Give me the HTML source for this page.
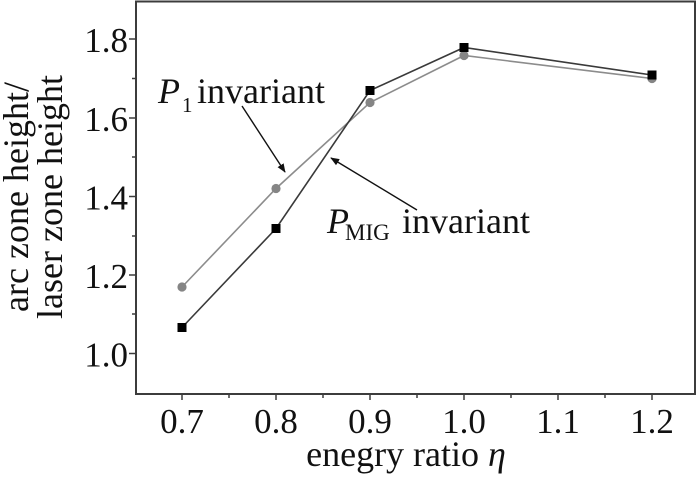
<!DOCTYPE html>
<html>
<head>
<meta charset="utf-8">
<style>
html,body{margin:0;padding:0;background:#fff;}
svg{display:block;}
text{font-family:"Liberation Serif","DejaVu Serif",serif;fill:#111;}
</style>
</head>
<body>
<svg width="700" height="477" viewBox="0 0 700 477" xmlns="http://www.w3.org/2000/svg">
<defs>
<marker id="ah" viewBox="0 0 10 10" refX="9" refY="5" markerWidth="9" markerHeight="9" orient="auto" markerUnits="userSpaceOnUse">
<path d="M0,1 L10,5 L0,9 Z" fill="#111"/>
</marker>
</defs>
<!-- frame -->
<rect x="136" y="1.5" width="559" height="392.5" fill="none" stroke="#3c3c3c" stroke-width="2"/>
<!-- y ticks -->
<g stroke="#3c3c3c" stroke-width="1.5">
<line x1="129" y1="39" x2="136" y2="39"/>
<line x1="129" y1="118" x2="136" y2="118"/>
<line x1="129" y1="196.5" x2="136" y2="196.5"/>
<line x1="129" y1="275" x2="136" y2="275"/>
<line x1="129" y1="353.5" x2="136" y2="353.5"/>
<line x1="132" y1="78.5" x2="136" y2="78.5"/>
<line x1="132" y1="157" x2="136" y2="157"/>
<line x1="132" y1="236" x2="136" y2="236"/>
<line x1="132" y1="314" x2="136" y2="314"/>
<!-- x ticks -->
<line x1="182" y1="394" x2="182" y2="400"/>
<line x1="276" y1="394" x2="276" y2="400"/>
<line x1="370" y1="394" x2="370" y2="400"/>
<line x1="464" y1="394" x2="464" y2="400"/>
<line x1="558" y1="394" x2="558" y2="400"/>
<line x1="652" y1="394" x2="652" y2="400"/>
<line x1="229" y1="394" x2="229" y2="398"/>
<line x1="323" y1="394" x2="323" y2="398"/>
<line x1="417" y1="394" x2="417" y2="398"/>
<line x1="511" y1="394" x2="511" y2="398"/>
<line x1="605" y1="394" x2="605" y2="398"/>
</g>
<!-- y tick labels -->
<g font-size="35" text-anchor="end">
<text x="128" y="52">1.8</text>
<text x="128" y="131">1.6</text>
<text x="128" y="209.5">1.4</text>
<text x="128" y="288">1.2</text>
<text x="128" y="366.5">1.0</text>
</g>
<!-- x tick labels -->
<g font-size="35" text-anchor="middle">
<text x="182" y="433">0.7</text>
<text x="276" y="433">0.8</text>
<text x="370" y="433">0.9</text>
<text x="464" y="433">1.0</text>
<text x="558" y="433">1.1</text>
<text x="652" y="433">1.2</text>
</g>
<!-- x label -->
<text x="406" y="466" font-size="36" text-anchor="middle">enegry ratio <tspan font-style="italic">η</tspan></text>
<!-- y label -->
<g transform="translate(28,197) rotate(-90)">
<text x="0" y="0" font-size="36" text-anchor="middle">arc zone height/</text>
</g>
<g transform="translate(62,197) rotate(-90)">
<text x="0" y="0" font-size="36" text-anchor="middle">laser zone height</text>
</g>
<!-- gray series (P1 invariant) -->
<polyline points="182,287 276,188.5 370,102.5 464,55.5 652,78.5" fill="none" stroke="#8c8c8c" stroke-width="1.6"/>
<!-- black series (PMIG invariant) -->
<polyline points="182,327.5 276,228.5 370,90.5 464,47.5 652,75" fill="none" stroke="#3a3a3a" stroke-width="1.6"/>
<g fill="#858585">
<circle cx="182" cy="287" r="4.6"/>
<circle cx="276" cy="188.5" r="4.6"/>
<circle cx="370" cy="102.5" r="4.6"/>
<circle cx="464" cy="55.5" r="4.6"/>
<circle cx="652" cy="78.5" r="4.6"/>
</g>
<g fill="#000">
<rect x="177.5" y="323" width="9" height="9"/>
<rect x="271.5" y="224" width="9" height="9"/>
<rect x="365.5" y="86" width="9" height="9"/>
<rect x="459.5" y="43" width="9" height="9"/>
<rect x="647.5" y="70.5" width="9" height="9"/>
</g>
<!-- annotations -->
<line x1="242" y1="106" x2="285" y2="172" stroke="#111" stroke-width="1.4" marker-end="url(#ah)"/>
<line x1="417" y1="210" x2="331" y2="158" stroke="#111" stroke-width="1.4" marker-end="url(#ah)"/>
<text x="158" y="103" font-size="36" font-style="italic">P</text>
<text x="182" y="112" font-size="21">1</text>
<text x="197" y="103" font-size="36">invariant</text>
<text x="327" y="233" font-size="36" font-style="italic">P</text>
<text x="345" y="240" font-size="23">MIG</text>
<text x="402" y="233" font-size="36">invariant</text>
</svg>
</body>
</html>
